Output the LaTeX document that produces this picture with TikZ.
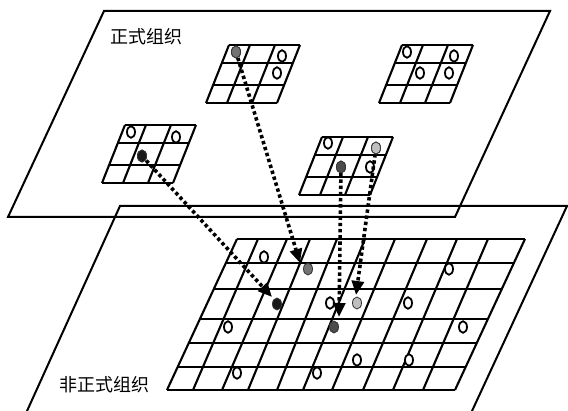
\documentclass[tikz,border=0pt]{standalone}
\usepackage{fontspec}
\newfontfamily\cjk{Noto Sans CJK SC}
\usetikzlibrary{arrows.meta,shapes.geometric}
\newcommand\drawsmallgrid[2]{%
  \foreach \r in {0,18,40,58} {
    \draw[gridline] ({#1-23*\r/58},{#2+\r}) -- ({#1+71-23*\r/58},{#2+\r});
  }
  \foreach \c in {0,21,46,71} {
    \draw[gridline] ({#1+\c},#2) -- ({#1+\c-23},{#2+58});
  }
}
\tikzset{
  plane/.style={line width=2pt, line join=miter},
  gridline/.style={line width=2.1pt},
  hollow/.style={ellipse, draw, line width=1.8pt, minimum width=8pt, minimum height=11.5pt, inner sep=0pt, fill=white},
  dot/.style={ellipse, draw=black!80, line width=0.8pt, minimum width=9pt, minimum height=12pt, inner sep=0pt},
  flow/.style={line width=3.6pt, dash pattern=on 3.4pt off 2.8pt, -{Triangle[length=14pt,width=12pt]}},
  lab/.style={font=\cjk\fontsize{18pt}{20pt}\selectfont, inner sep=0pt}
}
\begin{document}
\begin{tikzpicture}[x=1pt,y=-1pt]
\useasboundingbox (0,0) rectangle (568,411);
% planes
\draw[plane] (104,11) -- (550,11) -- (455,217) -- (8,217) -- cycle;
\draw[plane] (27,411) -- (120,206) -- (567,206) -- (472,411);
\node[lab] (formal) at (146,37) {正式组织};
\node[lab] (informal) at (104,385) {非正式组织};
% small grids
\drawsmallgrid{229}{45}
\drawsmallgrid{402}{45}
\drawsmallgrid{125}{125}
\drawsmallgrid{322}{137}
% big grid
\foreach \t/\b in {237/167,258/193,287/222,310/248,337/277,365/303,395/332,427/363,457/393,488/423,525/455} {
  \draw[gridline] (\t,239) -- (\b,390);
}
\foreach \y in {239,263,289,319,343,367,390} {
  \draw[gridline] ({237-70*(\y-239)/151},\y) -- ({525-70*(\y-239)/151},\y);
}
% small grid marks
\node[hollow] (a1) at (282,56) {};
\node[hollow] (a2) at (277,73) {};
\node[hollow] (b1) at (407,52) {};
\node[hollow] (b2) at (454,56) {};
\node[hollow] (b3) at (420,73) {};
\node[hollow] (b4) at (449,73) {};
\node[hollow] (c1) at (131,132) {};
\node[hollow] (c2) at (176,137) {};
\node[hollow] (d1) at (328,143) {};
\node[hollow] (d2) at (370,167) {};
\node[dot, fill=black!55] (sA) at (236,52) {};
\node[dot, fill=black!90] (sC) at (142,156) {};
\node[dot, fill=black!70] (sD) at (341,167) {};
\node[dot, fill=black!25] (sE) at (376,148) {};
% big grid marks
\foreach \x/\y [count=\i] in {264/257,449/269,330/303,408/303,228/327,463/327,357/360,409/360,237/373,317/373} {
  \node[hollow] (g\i) at (\x,\y) {};
}
\node[dot, fill=black!55] (tA) at (308,269) {};
\node[dot, fill=black!90] (tC) at (277,304) {};
\node[dot, fill=black!70] (tD) at (334,327) {};
\node[dot, fill=black!25] (tE) at (357,303) {};
% arrow ends
\coordinate (eA) at (300,263);
\coordinate (eC) at (272,297);
\coordinate (eD) at (339,317);
\coordinate (eE) at (356,295);
\draw[flow] (sA.center) -- (eA);
\draw[flow] (sC.center) -- (eC);
\draw[flow] (sD.center) -- (eD);
\draw[flow] (sE.center) -- (eE);
\node[dot, fill=black!55] at (sA) {};
\node[dot, fill=black!90] at (sC) {};
\node[dot, fill=black!70] at (sD) {};
\node[dot, fill=black!25] at (sE) {};
\end{tikzpicture}
\end{document}
